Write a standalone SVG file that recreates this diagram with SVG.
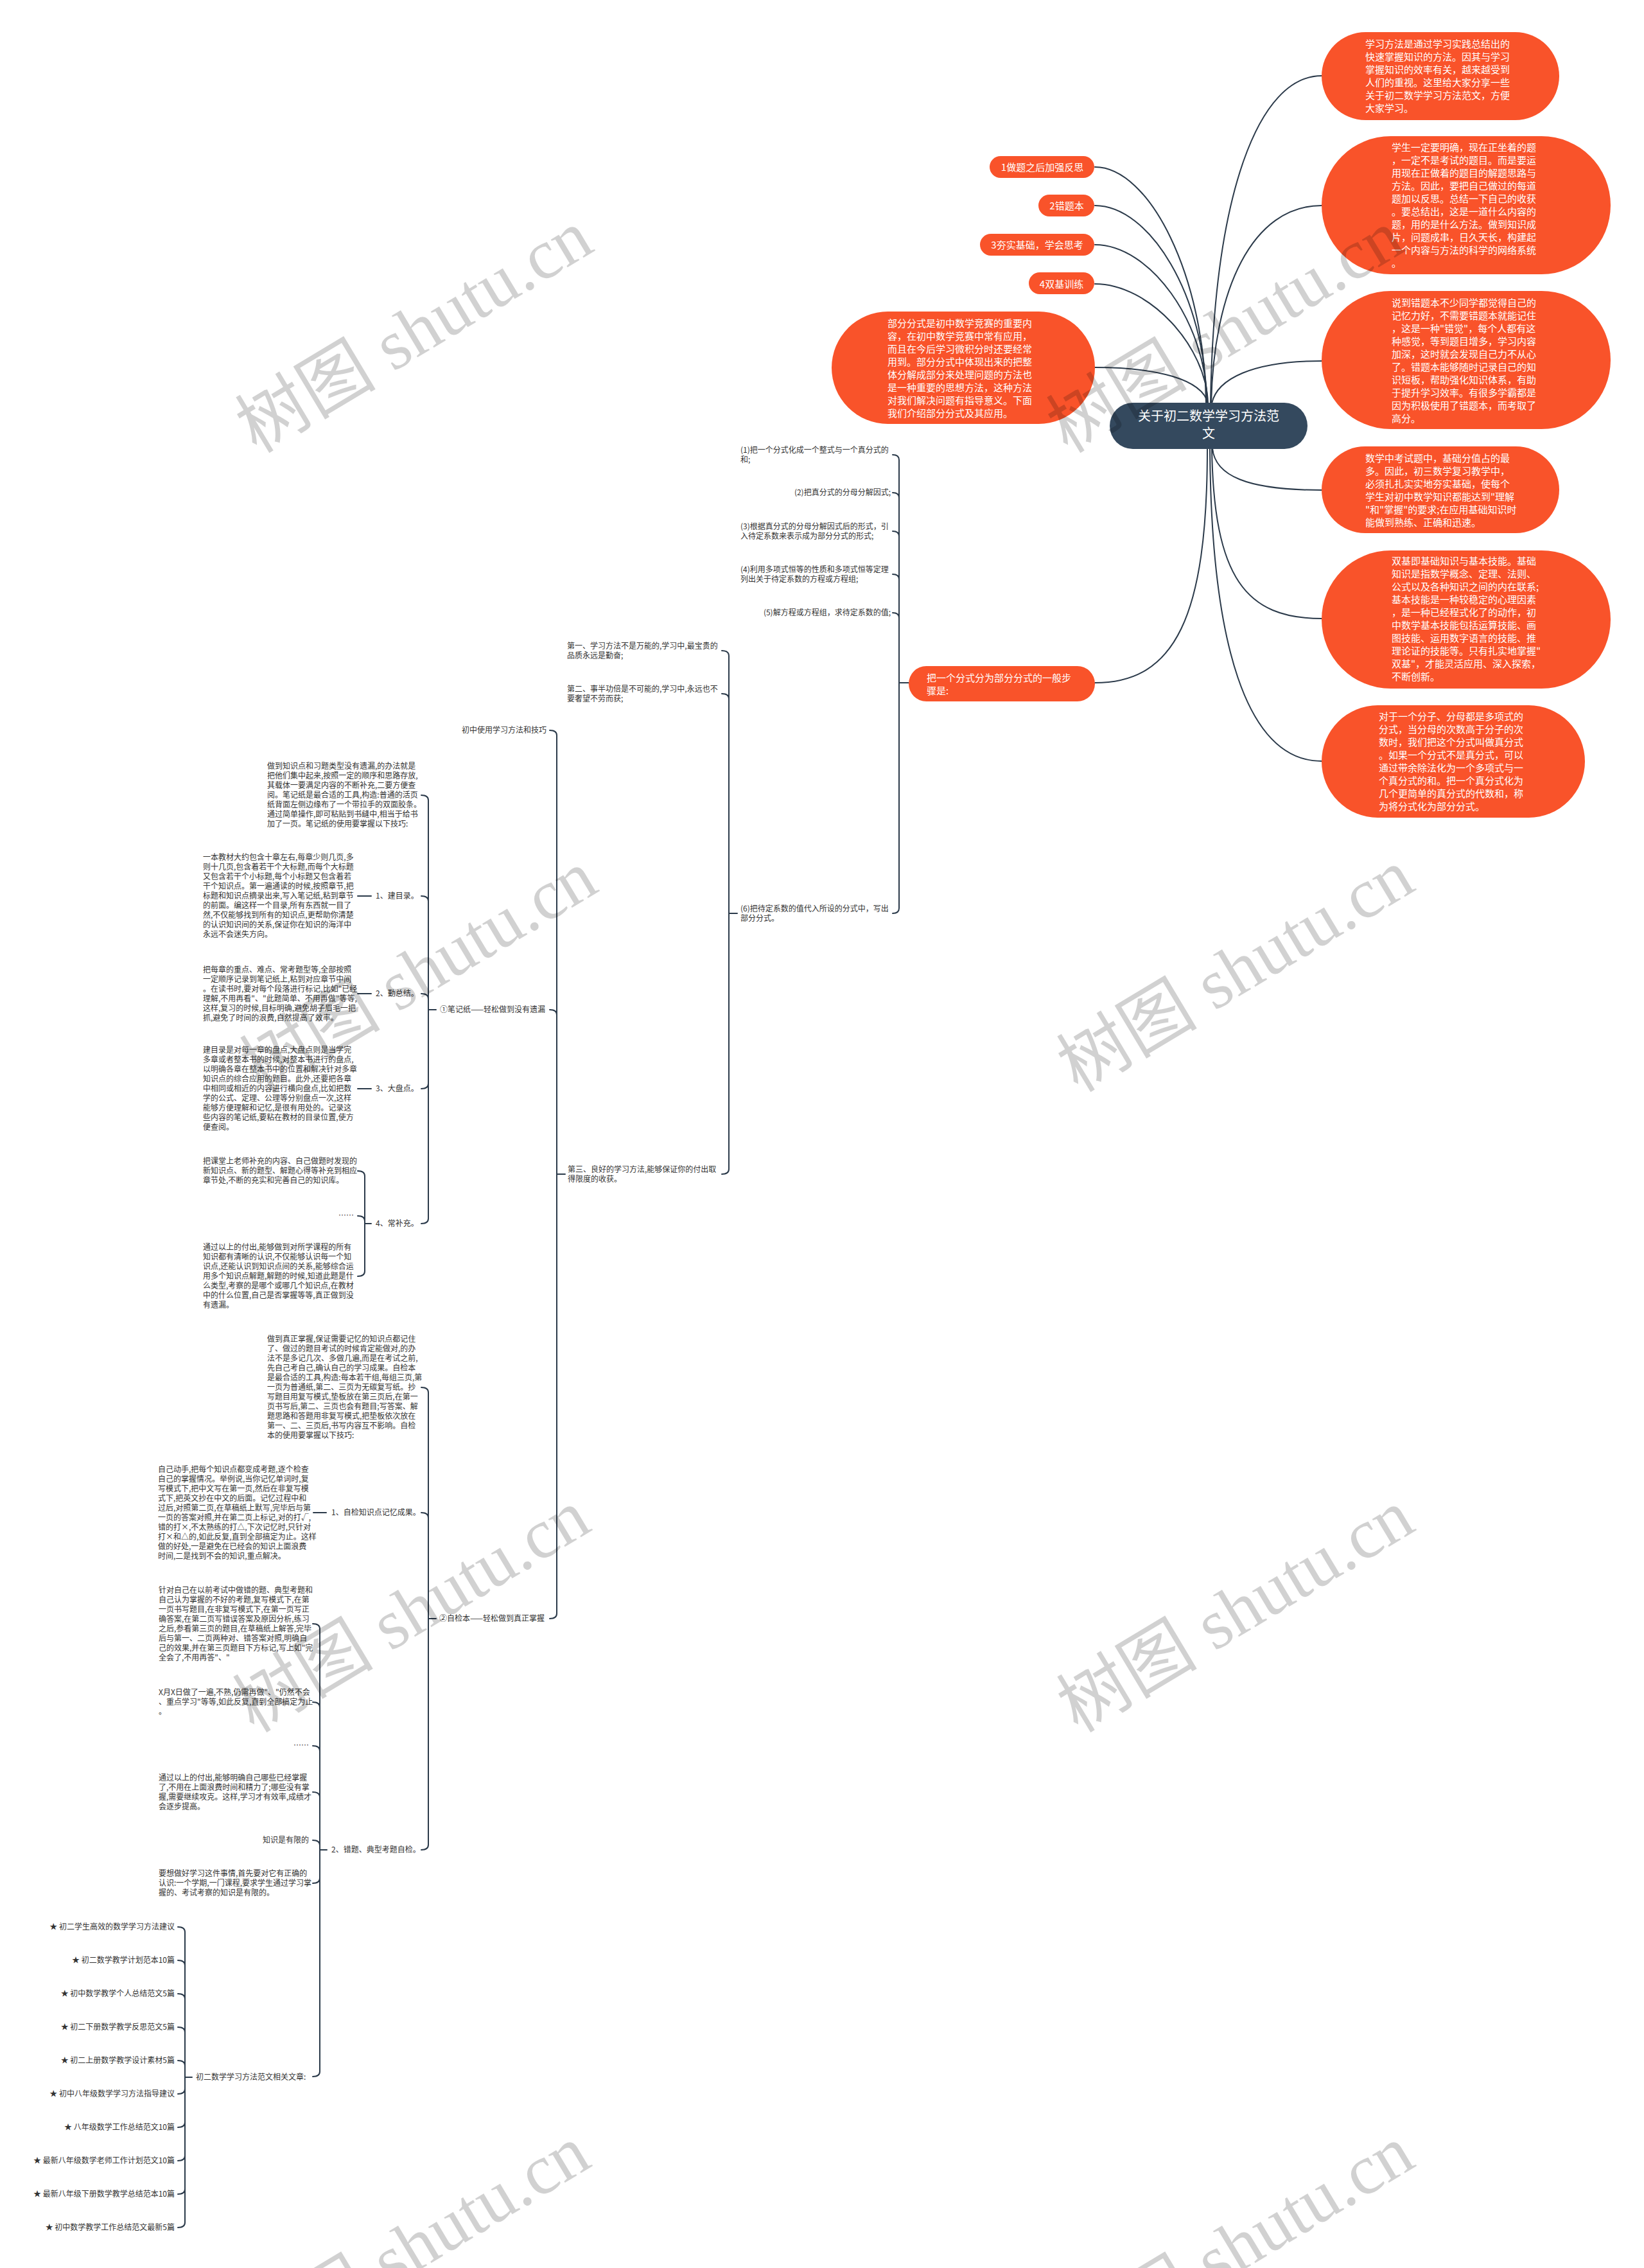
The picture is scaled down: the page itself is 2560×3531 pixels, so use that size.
<svg xmlns="http://www.w3.org/2000/svg" width="2560" height="3531" viewBox="0 0 2560 3531">
<style>
.ln{fill:none;stroke:#2b3a4a;stroke-width:2;stroke-linecap:round}
.or{fill:#F9532A}
.ct{fill:#34495E}
.tx{font-family:"Noto Sans CJK SC","Liberation Sans",sans-serif}
.w15{font-size:15px;fill:#fff}
.w20{font-size:20px;fill:#fff}
.s12{font-size:12px;fill:#333}
.wm{font-family:"Liberation Serif","Noto Sans CJK SC",serif;font-size:110px;fill:#000;fill-opacity:0.18}
</style>
<rect width="2560" height="3531" fill="#fff"/>
<g id="connectors" class="ln">
<path d="M1705 260 C1790 260 1876 430 1878 628"/>
<path d="M1705 320 C1790 320 1877 460 1879 628"/>
<path d="M1705 381 C1790 381 1878 500 1880 628"/>
<path d="M1705 442 C1790 442 1879 540 1881 628"/>
<path d="M1705 572 C1800 572 1872 590 1881 628"/>
<path d="M1885 628 C1890 300 1960 118 2058 118"/>
<path d="M1886 628 C1890 450 1950 320 2058 320"/>
<path d="M1887 628 C1895 590 1950 562 2058 562"/>
<path d="M1888 698 C1892 740 1940 763 2058 763"/>
<path d="M1887 698 C1890 900 1940 963 2058 963"/>
<path d="M1884 698 C1886 1000 1940 1185 2058 1185"/>
<path d="M1880 698 C1880 960 1830 1063 1705 1063"/>
<!-- bracket A -->
<path d="M1390 708 Q1400 708 1400 716 L1400 1414 Q1400 1422 1390 1422 M1390 767 Q1400 767 1400 775 M1390 827 Q1400 827 1400 835 M1390 894 Q1400 894 1400 902 M1390 954 Q1400 954 1400 962 M1400 1063 L1415 1063"/>
<!-- bracket B -->
<path d="M1124 1013 Q1135 1013 1135 1021 L1135 1820 Q1135 1828 1124 1828 M1124 1080 Q1135 1080 1135 1088 M1135 1422 L1148 1422"/>
<!-- bracket C -->
<path d="M856 1137 Q867 1137 867 1145 L867 2512 Q867 2520 856 2520 M856 1572 Q867 1572 867 1580 M867 1828 L880 1828"/>
<!-- bracket D -->
<path d="M656 1238 Q667 1238 667 1246 L667 1897 Q667 1905 656 1905 M656 1395 Q667 1395 667 1403 M656 1547 Q667 1547 667 1555 M656 1695 Q667 1695 667 1687 M667 1572 L679 1572"/>
<path d="M557 1395 L578 1395 M557 1547 L578 1547 M557 1695 L578 1695"/>
<!-- bracket E -->
<path d="M557 1823 Q568 1823 568 1831 L568 1979 Q568 1987 557 1987 M557 1893 Q568 1893 568 1901 M568 1905 L578 1905"/>
<!-- bracket F -->
<path d="M656 2160 Q667 2160 667 2168 L667 2872 Q667 2880 656 2880 M656 2355 Q667 2355 667 2363 M667 2520 L679 2520"/>
<path d="M488 2355 L508 2355"/>
<!-- bracket G -->
<path d="M487 2528 Q498 2528 498 2536 L498 3225 Q498 3233 487 3233 M487 2650 Q498 2650 498 2658 M487 2718 Q498 2718 498 2726 M487 2790 Q498 2790 498 2798 M487 2865 Q498 2865 498 2873 M487 2932 Q498 2932 498 2924 M498 2880 L509 2880"/>
<!-- bracket H -->
<path d="M277 3000 Q288 3000 288 3008 L288 3460 Q288 3468 277 3468 M277 3052 Q288 3052 288 3060 M277 3104 Q288 3104 288 3112 M277 3156 Q288 3156 288 3164 M277 3208 Q288 3208 288 3216 M277 3260 Q288 3260 288 3252 M277 3312 Q288 3312 288 3304 M277 3364 Q288 3364 288 3356 M277 3416 Q288 3416 288 3408 M288 3234 L299 3234"/>
</g>

<g id="center">
<rect class="ct" x="1728" y="627" width="308" height="72" rx="36"/>
<text class="tx w20" text-anchor="middle" x="1882" y="655">关于初二数学学习方法范<tspan x="1882" dy="27">文</tspan></text>
</g>

<g id="r1">
<rect class="or" x="2058" y="50" width="370" height="137" rx="68.5"/>
<text class="tx w15" x="2126" y="73.5"><tspan x="2126">学习方法是通过学习实践总结出的</tspan><tspan x="2126" dy="20">快速掌握知识的方法。因其与学习</tspan><tspan x="2126" dy="20">掌握知识的效率有关，越来越受到</tspan><tspan x="2126" dy="20">人们的重视。这里给大家分享一些</tspan><tspan x="2126" dy="20">关于初二数学学习方法范文，方便</tspan><tspan x="2126" dy="20">大家学习。</tspan></text>
</g>
<g id="r2">
<rect class="or" x="2058" y="212" width="450" height="215" rx="107.5"/>
<text class="tx w15" x="2167" y="235"><tspan x="2167">学生一定要明确，现在正坐着的题</tspan><tspan x="2167" dy="20">，一定不是考试的题目。而是要运</tspan><tspan x="2167" dy="20">用现在正做着的题目的解题思路与</tspan><tspan x="2167" dy="20">方法。因此，要把自己做过的每道</tspan><tspan x="2167" dy="20">题加以反思。总结一下自己的收获</tspan><tspan x="2167" dy="20">。要总结出，这是一道什么内容的</tspan><tspan x="2167" dy="20">题，用的是什么方法。做到知识成</tspan><tspan x="2167" dy="20">片，问题成串，日久天长，构建起</tspan><tspan x="2167" dy="20">一个内容与方法的科学的网络系统</tspan><tspan x="2167" dy="20">。</tspan></text>
</g>
<g id="r3">
<rect class="or" x="2058" y="453" width="450" height="215" rx="107.5"/>
<text class="tx w15" x="2167" y="476.5"><tspan x="2167">说到错题本不少同学都觉得自己的</tspan><tspan x="2167" dy="20">记忆力好，不需要错题本就能记住</tspan><tspan x="2167" dy="20">，这是一种"错觉"，每个人都有这</tspan><tspan x="2167" dy="20">种感觉，等到题目增多，学习内容</tspan><tspan x="2167" dy="20">加深，这时就会发现自己力不从心</tspan><tspan x="2167" dy="20">了。错题本能够随时记录自己的知</tspan><tspan x="2167" dy="20">识短板，帮助强化知识体系，有助</tspan><tspan x="2167" dy="20">于提升学习效率。有很多学霸都是</tspan><tspan x="2167" dy="20">因为积极使用了错题本，而考取了</tspan><tspan x="2167" dy="20">高分。</tspan></text>
</g>
<g id="r4">
<rect class="or" x="2058" y="695" width="370" height="135" rx="67.5"/>
<text class="tx w15" x="2126" y="718.5"><tspan x="2126">数学中考试题中，基础分值占的最</tspan><tspan x="2126" dy="20">多。因此，初三数学复习教学中，</tspan><tspan x="2126" dy="20">必须扎扎实实地夯实基础，使每个</tspan><tspan x="2126" dy="20">学生对初中数学知识都能达到"理解</tspan><tspan x="2126" dy="20">"和"掌握"的要求;在应用基础知识时</tspan><tspan x="2126" dy="20">能做到熟练、正确和迅速。</tspan></text>
</g>
<g id="r5">
<rect class="or" x="2058" y="857" width="450" height="215" rx="107.5"/>
<text class="tx w15" x="2167" y="878.5"><tspan x="2167">双基即基础知识与基本技能。基础</tspan><tspan x="2167" dy="20">知识是指数学概念、定理、法则、</tspan><tspan x="2167" dy="20">公式以及各种知识之间的内在联系;</tspan><tspan x="2167" dy="20">基本技能是一种较稳定的心理因素</tspan><tspan x="2167" dy="20">，是一种已经程式化了的动作，初</tspan><tspan x="2167" dy="20">中数学基本技能包括运算技能、画</tspan><tspan x="2167" dy="20">图技能、运用数字语言的技能、推</tspan><tspan x="2167" dy="20">理论证的技能等。只有扎实地掌握"</tspan><tspan x="2167" dy="20">双基"，才能灵活应用、深入探索，</tspan><tspan x="2167" dy="20">不断创新。</tspan></text>
</g>
<g id="r6">
<rect class="or" x="2058" y="1098" width="410" height="175" rx="87.5"/>
<text class="tx w15" x="2147" y="1120.5"><tspan x="2147">对于一个分子、分母都是多项式的</tspan><tspan x="2147" dy="20">分式，当分母的次数高于分子的次</tspan><tspan x="2147" dy="20">数时，我们把这个分式叫做真分式</tspan><tspan x="2147" dy="20">。如果一个分式不是真分式，可以</tspan><tspan x="2147" dy="20">通过带余除法化为一个多项式与一</tspan><tspan x="2147" dy="20">个真分式的和。把一个真分式化为</tspan><tspan x="2147" dy="20">几个更简单的真分式的代数和，称</tspan><tspan x="2147" dy="20">为将分式化为部分分式。</tspan></text>
</g>

<g id="l1"><rect class="or" x="1541" y="243" width="163" height="34" rx="17"/><text class="tx w15" text-anchor="middle" x="1623" y="265.5">1做题之后加强反思</text></g>
<g id="l2"><rect class="or" x="1617" y="303" width="87" height="34" rx="17"/><text class="tx w15" text-anchor="middle" x="1661" y="325.5">2错题本</text></g>
<g id="l3"><rect class="or" x="1526" y="364" width="178" height="34" rx="17"/><text class="tx w15" text-anchor="middle" x="1615" y="386.5">3夯实基础，学会思考</text></g>
<g id="l4"><rect class="or" x="1602" y="424" width="102" height="34" rx="17"/><text class="tx w15" text-anchor="middle" x="1653" y="447.5">4双基训练</text></g>
<g id="l5">
<rect class="or" x="1295" y="485" width="410" height="175" rx="87.5"/>
<text class="tx w15" x="1382" y="508.5"><tspan x="1382">部分分式是初中数学竞赛的重要内</tspan><tspan x="1382" dy="20">容，在初中数学竞赛中常有应用，</tspan><tspan x="1382" dy="20">而且在今后学习微积分时还要经常</tspan><tspan x="1382" dy="20">用到。部分分式中体现出来的把整</tspan><tspan x="1382" dy="20">体分解成部分来处理问题的方法也</tspan><tspan x="1382" dy="20">是一种重要的思想方法，这种方法</tspan><tspan x="1382" dy="20">对我们解决问题有指导意义。下面</tspan><tspan x="1382" dy="20">我们介绍部分分式及其应用。</tspan></text>
</g>
<g id="l6">
<rect class="or" x="1415" y="1037" width="290" height="55" rx="27.5"/>
<text class="tx w15" x="1443" y="1060.5"><tspan x="1443">把一个分式分为部分分式的一般步</tspan><tspan x="1443" dy="20">骤是:</tspan></text>
</g>

<g id="step1"><text class="tx s12" x="1153" y="704.5"><tspan x="1153">(1)把一个分式化成一个整式与一个真分式的</tspan><tspan x="1153" dy="15">和;</tspan></text></g>
<g id="step2"><text class="tx s12" text-anchor="end" x="1387" y="771">(2)把真分式的分母分解因式;</text></g>
<g id="step3"><text class="tx s12" x="1153" y="823.5"><tspan x="1153">(3)根据真分式的分母分解因式后的形式，引</tspan><tspan x="1153" dy="15">入待定系数来表示成为部分分式的形式;</tspan></text></g>
<g id="step4"><text class="tx s12" x="1153" y="890.5"><tspan x="1153">(4)利用多项式恒等的性质和多项式恒等定理</tspan><tspan x="1153" dy="15">列出关于待定系数的方程或方程组;</tspan></text></g>
<g id="step5"><text class="tx s12" text-anchor="end" x="1387" y="958">(5)解方程或方程组，求待定系数的值;</text></g>
<g id="step6"><text class="tx s12" x="1153" y="1418.5"><tspan x="1153">(6)把待定系数的值代入所设的分式中，写出</tspan><tspan x="1153" dy="15">部分分式。</tspan></text></g>

<g id="first"><text class="tx s12" x="883" y="1009.5"><tspan x="883">第一、学习方法不是万能的,学习中,最宝贵的</tspan><tspan x="883" dy="15">品质永远是勤奋;</tspan></text></g>
<g id="second"><text class="tx s12" x="883" y="1076.5"><tspan x="883">第二、事半功倍是不可能的,学习中,永远也不</tspan><tspan x="883" dy="15">要奢望不劳而获;</tspan></text></g>
<g id="third"><text class="tx s12" x="884" y="1824.5"><tspan x="884">第三、良好的学习方法,能够保证你的付出取</tspan><tspan x="884" dy="15">得限度的收获。</tspan></text></g>

<g id="skills"><text class="tx s12" text-anchor="end" x="851" y="1141">初中使用学习方法和技巧</text></g>
<g id="notes"><text class="tx s12" x="685" y="1576">①笔记纸——轻松做到没有遗漏</text></g>
<g id="selfcheck"><text class="tx s12" x="684" y="2524">②自检本——轻松做到真正掌握</text></g>

<g id="notes-intro"><text class="tx s12" x="416" y="1197"><tspan x="416">做到知识点和习题类型没有遗漏,的办法就是</tspan><tspan x="416" dy="15">把他们集中起来,按照一定的顺序和思路存放,</tspan><tspan x="416" dy="15">其载体一要满足内容的不断补充,二要方便查</tspan><tspan x="416" dy="15">阅。笔记纸是最合适的工具,构造:普通的活页</tspan><tspan x="416" dy="15">纸背面左侧边缘布了一个带拉手的双面胶条。</tspan><tspan x="416" dy="15">通过简单操作,即可粘贴到书缝中,相当于给书</tspan><tspan x="416" dy="15">加了一页。笔记纸的使用要掌握以下技巧:</tspan></text></g>
<g id="n1"><text class="tx s12" x="585" y="1399">1、建目录。</text></g>
<g id="n1-d"><text class="tx s12" x="316" y="1339"><tspan x="316">一本教材大约包含十章左右,每章少则几页,多</tspan><tspan x="316" dy="15">则十几页,包含着若干个大标题,而每个大标题</tspan><tspan x="316" dy="15">又包含若干个小标题,每个小标题又包含着若</tspan><tspan x="316" dy="15">干个知识点。第一遍通读的时候,按照章节,把</tspan><tspan x="316" dy="15">标题和知识点摘录出来,写入笔记纸,粘到章节</tspan><tspan x="316" dy="15">的前面。编这样一个目录,所有东西就一目了</tspan><tspan x="316" dy="15">然,不仅能够找到所有的知识点,更帮助你清楚</tspan><tspan x="316" dy="15">的认识知识间的关系,保证你在知识的海洋中</tspan><tspan x="316" dy="15">永远不会迷失方向。</tspan></text></g>
<g id="n2"><text class="tx s12" x="585" y="1551">2、勤总结。</text></g>
<g id="n2-d"><text class="tx s12" x="316" y="1513.5"><tspan x="316">把每章的重点、难点、常考题型等,全部按照</tspan><tspan x="316" dy="15">一定顺序记录到笔记纸上,粘到对应章节中间</tspan><tspan x="316" dy="15">。在读书时,要对每个段落进行标记,比如"已经</tspan><tspan x="316" dy="15">理解,不用再看"、"此题简单、不用再做"等等,</tspan><tspan x="316" dy="15">这样,复习的时候,目标明确,避免胡子眉毛一把</tspan><tspan x="316" dy="15">抓,避免了时间的浪费,自然提高了效率。</tspan></text></g>
<g id="n3"><text class="tx s12" x="585" y="1699">3、大盘点。</text></g>
<g id="n3-d"><text class="tx s12" x="316" y="1639"><tspan x="316">建目录是对每一章的盘点,大盘点则是当学完</tspan><tspan x="316" dy="15">多章或者整本书的时候,对整本书进行的盘点,</tspan><tspan x="316" dy="15">以明确各章在整本书中的位置和解决针对多章</tspan><tspan x="316" dy="15">知识点的综合应用的题目。此外,还要把各章</tspan><tspan x="316" dy="15">中相同或相近的内容进行横向盘点,比如把数</tspan><tspan x="316" dy="15">学的公式、定理、公理等分别盘点一次,这样</tspan><tspan x="316" dy="15">能够方便理解和记忆,是很有用处的。记录这</tspan><tspan x="316" dy="15">些内容的笔记纸,要粘在教材的目录位置,使方</tspan><tspan x="316" dy="15">便查阅。</tspan></text></g>
<g id="n4"><text class="tx s12" x="585" y="1909">4、常补充。</text></g>
<g id="n4-a"><text class="tx s12" x="316" y="1812"><tspan x="316">把课堂上老师补充的内容、自己做题时发现的</tspan><tspan x="316" dy="15">新知识点、新的题型、解题心得等补充到相应</tspan><tspan x="316" dy="15">章节处,不断的充实和完善自己的知识库。</tspan></text></g>
<g id="n4-b"><text class="tx s12" text-anchor="end" x="551" y="1897">……</text></g>
<g id="n4-c"><text class="tx s12" x="316" y="1946"><tspan x="316">通过以上的付出,能够做到对所学课程的所有</tspan><tspan x="316" dy="15">知识都有清晰的认识,不仅能够认识每一个知</tspan><tspan x="316" dy="15">识点,还能认识到知识点间的关系,能够综合运</tspan><tspan x="316" dy="15">用多个知识点解题,解题的时候,知道此题是什</tspan><tspan x="316" dy="15">么类型,考察的是哪个或哪几个知识点,在教材</tspan><tspan x="316" dy="15">中的什么位置,自己是否掌握等等,真正做到没</tspan><tspan x="316" dy="15">有遗漏。</tspan></text></g>

<g id="check-intro"><text class="tx s12" x="416" y="2089"><tspan x="416">做到真正掌握,保证需要记忆的知识点都记住</tspan><tspan x="416" dy="15">了、做过的题目考试的时候肯定能做对,的办</tspan><tspan x="416" dy="15">法不是多记几次、多做几遍,而是在考试之前,</tspan><tspan x="416" dy="15">先自己考自己,确认自己的学习成果。自检本</tspan><tspan x="416" dy="15">是最合适的工具,构造:每本若干组,每组三页,第</tspan><tspan x="416" dy="15">一页为普通纸,第二、三页为无碳复写纸。抄</tspan><tspan x="416" dy="15">写题目用复写模式,垫板放在第三页后,在第一</tspan><tspan x="416" dy="15">页书写后,第二、三页也会有题目;写答案、解</tspan><tspan x="416" dy="15">题思路和答题用非复写模式,把垫板依次放在</tspan><tspan x="416" dy="15">第一、二、三页后,书写内容互不影响。自检</tspan><tspan x="416" dy="15">本的使用要掌握以下技巧:</tspan></text></g>
<g id="c1"><text class="tx s12" x="516" y="2359">1、自检知识点记忆成果。</text></g>
<g id="c1-d"><text class="tx s12" x="246" y="2291.5"><tspan x="246">自己动手,把每个知识点都变成考题,逐个检查</tspan><tspan x="246" dy="15">自己的掌握情况。举例说,当你记忆单词时,复</tspan><tspan x="246" dy="15">写模式下,把中文写在第一页,然后在非复写模</tspan><tspan x="246" dy="15">式下,把英文抄在中文的后面。记忆过程中和</tspan><tspan x="246" dy="15">过后,对照第二页,在草稿纸上默写,完毕后与第</tspan><tspan x="246" dy="15">一页的答案对照,并在第二页上标记,对的打√,</tspan><tspan x="246" dy="15">错的打×,不太熟练的打△,下次记忆时,只针对</tspan><tspan x="246" dy="15">打×和△的,如此反复,直到全部搞定为止。这样</tspan><tspan x="246" dy="15">做的好处,一是避免在已经会的知识上面浪费</tspan><tspan x="246" dy="15">时间,二是找到不会的知识,重点解决。</tspan></text></g>
<g id="c2"><text class="tx s12" x="516" y="2884">2、错题、典型考题自检。</text></g>
<g id="c2-a"><text class="tx s12" x="247" y="2479.5"><tspan x="247">针对自己在以前考试中做错的题、典型考题和</tspan><tspan x="247" dy="15">自己认为掌握的不好的考题,复写模式下,在第</tspan><tspan x="247" dy="15">一页书写题目,在非复写模式下,在第一页写正</tspan><tspan x="247" dy="15">确答案,在第二页写错误答案及原因分析,练习</tspan><tspan x="247" dy="15">之后,参看第三页的题目,在草稿纸上解答,完毕</tspan><tspan x="247" dy="15">后与第一、二页两种对、错答案对照,明确自</tspan><tspan x="247" dy="15">己的效果,并在第三页题目下方标记,写上如"完</tspan><tspan x="247" dy="15">全会了,不用再答"、"</tspan></text></g>
<g id="c2-b"><text class="tx s12" x="247" y="2639"><tspan x="247">X月X日做了一遍,不熟,仍需再做"、"仍然不会</tspan><tspan x="247" dy="15">、重点学习"等等,如此反复,直到全部搞定为止</tspan><tspan x="247" dy="15">。</tspan></text></g>
<g id="c2-c"><text class="tx s12" text-anchor="end" x="481" y="2722">……</text></g>
<g id="c2-d"><text class="tx s12" x="247" y="2771.5"><tspan x="247">通过以上的付出,能够明确自己哪些已经掌握</tspan><tspan x="247" dy="15">了,不用在上面浪费时间和精力了;哪些没有掌</tspan><tspan x="247" dy="15">握,需要继续攻克。这样,学习才有效率,成绩才</tspan><tspan x="247" dy="15">会逐步提高。</tspan></text></g>
<g id="c2-e"><text class="tx s12" text-anchor="end" x="481" y="2869">知识是有限的</text></g>
<g id="c2-f"><text class="tx s12" x="247" y="2921"><tspan x="247">要想做好学习这件事情,首先要对它有正确的</tspan><tspan x="247" dy="15">认识:一个学期,一门课程,要求学生通过学习掌</tspan><tspan x="247" dy="15">握的、考试考察的知识是有限的。</tspan></text></g>
<g id="related"><text class="tx s12" x="305" y="3238">初二数学学习方法范文相关文章:</text></g>
<g id="links" class="tx s12" text-anchor="end">
<text x="272" y="3004">★ 初二学生高效的数学学习方法建议</text>
<text x="272" y="3056">★ 初二数学教学计划范本10篇</text>
<text x="272" y="3108">★ 初中数学教学个人总结范文5篇</text>
<text x="272" y="3160">★ 初二下册数学教学反思范文5篇</text>
<text x="272" y="3212">★ 初二上册数学教学设计素材5篇</text>
<text x="272" y="3264">★ 初中八年级数学学习方法指导建议</text>
<text x="272" y="3316">★ 八年级数学工作总结范文10篇</text>
<text x="272" y="3368">★ 最新八年级数学老师工作计划范文10篇</text>
<text x="272" y="3420">★ 最新八年级下册数学教学总结范本10篇</text>
<text x="272" y="3472">★ 初中数学教学工作总结范文最新5篇</text>
</g>

<g id="watermarks" class="wm" text-anchor="middle">
<text transform="translate(646 518) rotate(-31)" y="35">树图 shutu.cn</text>
<text transform="translate(1909 518) rotate(-31)" y="35">树图 shutu.cn</text>
<text transform="translate(653 1515) rotate(-31)" y="35">树图 shutu.cn</text>
<text transform="translate(1925 1513) rotate(-31)" y="35">树图 shutu.cn</text>
<text transform="translate(642 2510) rotate(-31)" y="35">树图 shutu.cn</text>
<text transform="translate(1925 2510) rotate(-31)" y="35">树图 shutu.cn</text>
<text transform="translate(642 3500) rotate(-31)" y="35">树图 shutu.cn</text>
<text transform="translate(1925 3500) rotate(-31)" y="35">树图 shutu.cn</text>
</g>
</svg>
